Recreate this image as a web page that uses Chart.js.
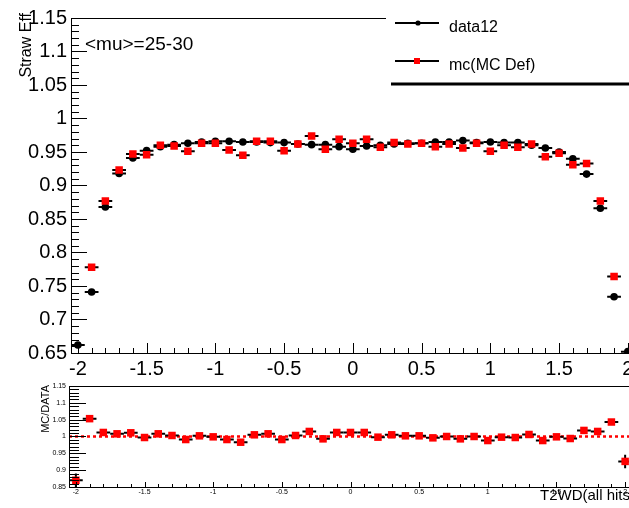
<!DOCTYPE html>
<html>
<head>
<meta charset="utf-8">
<script src="https://cdn.jsdelivr.net/npm/chart.js@4.4.0/dist/chart.umd.min.js"></script>
<style>
  html, body { margin: 0; padding: 0; background: #fff; overflow: hidden; width: 629px; height: 508px; }
  #wrap { position: relative; width: 629px; height: 508px; overflow: hidden; }
  canvas { position: absolute; left: 0; }
  #effCanvas { top: 0; }
  #ratioCanvas { top: 370px; }
</style>
</head>
<body>
<div id="wrap">
  <canvas id="effCanvas" width="640" height="380"></canvas>
  <canvas id="ratioCanvas" width="640" height="138"></canvas>
</div>
<script>
// T2WD bin centres (bin width 0.1)
const binCentres = [-2.0, -1.9, -1.8, -1.7, -1.6, -1.5, -1.4, -1.3, -1.2, -1.1,
                    -1.0, -0.9, -0.8, -0.7, -0.6, -0.5, -0.4, -0.3, -0.2, -0.1,
                     0.0,  0.1,  0.2,  0.3,  0.4,  0.5,  0.6,  0.7,  0.8,  0.9,
                     1.0,  1.1,  1.2,  1.3,  1.4,  1.5,  1.6,  1.7,  1.8,  1.9, 2.0];
const binHalfWidth = 0.05;

// straw efficiency, data 2012
const data12Eff = [0.662, 0.741, 0.868, 0.918, 0.941, 0.952, 0.958, 0.961, 0.963, 0.965,
                   0.966, 0.966, 0.965, 0.965, 0.964, 0.964, 0.962, 0.961, 0.961, 0.958,
                   0.954, 0.959, 0.960, 0.962, 0.963, 0.963, 0.965, 0.965, 0.967, 0.964,
                   0.965, 0.964, 0.964, 0.960, 0.956, 0.950, 0.940, 0.917, 0.866, 0.734, 0.652];

// straw efficiency, MC default (edge bins fall below the axis range)
const mcEff = [null, 0.778, 0.877, 0.923, 0.947, 0.946, 0.960, 0.959, 0.951, 0.963,
               0.963, 0.953, 0.945, 0.966, 0.966, 0.952, 0.962, 0.974, 0.954, 0.969,
               0.963, 0.969, 0.957, 0.964, 0.962, 0.963, 0.958, 0.962, 0.956, 0.963,
               0.951, 0.960, 0.957, 0.962, 0.943, 0.948, 0.931, 0.933, 0.877, 0.764, null];

// MC / DATA ratio and its uncertainty
const mcOverData = [0.870, 1.053, 1.012, 1.008, 1.011, 0.997, 1.008, 1.003, 0.991, 1.002,
                    0.999, 0.991, 0.983, 1.005, 1.008, 0.991, 1.003, 1.015, 0.993, 1.012,
                    1.012, 1.012, 0.998, 1.005, 1.002, 1.002, 0.996, 1.000, 0.993, 1.000,
                    0.988, 0.998, 0.997, 1.006, 0.988, 0.999, 0.994, 1.018, 1.015, 1.043, 0.926];
const mcOverDataErr = [0.020, 0.008, 0.004, 0.003, 0.003, 0.003, 0.003, 0.003, 0.003, 0.003,
                       0.003, 0.003, 0.003, 0.003, 0.003, 0.003, 0.003, 0.003, 0.003, 0.003,
                       0.003, 0.003, 0.003, 0.003, 0.003, 0.003, 0.003, 0.003, 0.003, 0.003,
                       0.003, 0.003, 0.003, 0.003, 0.003, 0.003, 0.003, 0.003, 0.004, 0.008, 0.020];

const xTickValues = [-2, -1.5, -1, -0.5, 0, 0.5, 1, 1.5, 2];
const effTickValues = [0.65, 0.7, 0.75, 0.8, 0.85, 0.9, 0.95, 1, 1.05, 1.1, 1.15];
const ratioTickValues = [0.85, 0.9, 0.95, 1, 1.05, 1.1, 1.15];
const seriesNames = ['data12', 'mc(MC Def)'];

const FONT = '"Liberation Sans", Arial, Helvetica, sans-serif';
const fmt = v => String(Number(Number(v).toFixed(2)));
const toPoints = (xs, ys) => xs.map((x, i) => ({ x: x, y: ys[i] }));

// axis frame with inward major/minor ticks, filled as one path
function drawFrame(chart, st) {
  const ctx = chart.ctx;
  const a = chart.chartArea;
  const xs = chart.scales.x, ys = chart.scales.y;
  const L = Math.round(a.left), B = Math.round(a.bottom);
  const T = Math.round(a.top), R = Math.round(a.right);
  ctx.save();
  ctx.globalAlpha = 1;
  ctx.globalCompositeOperation = 'source-over';
  ctx.fillStyle = '#000000';
  ctx.beginPath();
  ctx.rect(L, T, R - L, 1);
  ctx.rect(L, B, R - L, 1);
  ctx.rect(L, T, 1, B - T + 1);
  const yLo = st.yTicks[0];
  const yCount = Math.round((st.yTicks[st.yTicks.length - 1] - yLo) / st.yMinor);
  const yEvery = Math.round(st.yMajor / st.yMinor);
  for (let i = 0; i <= yCount; i++) {
    const py = Math.round(ys.getPixelForValue(yLo + i * st.yMinor));
    ctx.rect(L + 1, py, ((i % yEvery === 0) ? st.yMajorLen : st.yMinorLen) - 1, 1);
  }
  const xLo = xTickValues[0];
  const xCount = Math.round((xTickValues[xTickValues.length - 1] - xLo) / st.xMinor);
  const xEvery = Math.round(st.xMajor / st.xMinor);
  for (let i = 0; i <= xCount; i++) {
    const px = Math.round(xs.getPixelForValue(xLo + i * st.xMinor));
    const len = (i % xEvery === 0) ? st.xMajorLen : st.xMinorLen;
    ctx.rect(px, B - len, 1, len);
  }
  ctx.fill();
  ctx.restore();
}

// reference line and bin-width / uncertainty bars drawn under the markers
function drawUnderlay(chart, st) {
  const ctx = chart.ctx;
  const a = chart.chartArea;
  const x = chart.scales.x, y = chart.scales.y;
  ctx.save();
  if (st.refLine !== undefined) {
    const py = y.getPixelForValue(st.refLine);
    ctx.strokeStyle = '#ff0000';
    ctx.lineWidth = 2.5;
    ctx.setLineDash([3, 3]);
    ctx.beginPath();
    ctx.moveTo(a.left, py);
    ctx.lineTo(a.right, py);
    ctx.stroke();
    ctx.setLineDash([]);
  }
  ctx.beginPath();
  ctx.rect(a.left, a.top, a.right - a.left, a.bottom - a.top);
  ctx.clip();
  ctx.strokeStyle = '#000';
  ctx.lineWidth = 2;
  chart.data.datasets.forEach(ds => {
    ds.data.forEach((pt, i) => {
      if (pt.y === null || pt.y === undefined) return;
      const py = y.getPixelForValue(pt.y);
      ctx.beginPath();
      ctx.moveTo(x.getPixelForValue(pt.x - binHalfWidth), py);
      ctx.lineTo(x.getPixelForValue(pt.x + binHalfWidth), py);
      if (ds.yErr) {
        const px = x.getPixelForValue(pt.x);
        ctx.moveTo(px, y.getPixelForValue(pt.y - ds.yErr[i]));
        ctx.lineTo(px, y.getPixelForValue(pt.y + ds.yErr[i]));
      }
      ctx.stroke();
    });
  });
  ctx.restore();
}

function drawRotated(ctx, text, x, yTop, size) {
  ctx.save();
  ctx.translate(x, yTop);
  ctx.rotate(-Math.PI / 2);
  ctx.font = size + 'px ' + FONT;
  ctx.fillStyle = '#000';
  ctx.textAlign = 'right';
  ctx.textBaseline = 'alphabetic';
  ctx.fillText(text, 0, 0);
  ctx.restore();
}

function drawEffLabels(ctx) {
  // legend box
  ctx.save();
  ctx.fillStyle = '#fff';
  ctx.fillRect(386, 0, 260, 82);
  ctx.fillStyle = '#000';
  ctx.fillRect(391, 82.5, 260, 3);
  ctx.strokeStyle = '#000';
  ctx.lineWidth = 2;
  ctx.beginPath();
  ctx.moveTo(395, 23); ctx.lineTo(439, 23);
  ctx.moveTo(395, 61); ctx.lineTo(439, 61);
  ctx.stroke();
  ctx.beginPath();
  ctx.arc(418, 23, 2.6, 0, Math.PI * 2);
  ctx.fill();
  ctx.fillStyle = '#ff0000';
  ctx.fillRect(414, 58, 6, 6);
  ctx.fillStyle = '#000';
  ctx.font = '16px ' + FONT;
  ctx.textAlign = 'left';
  ctx.textBaseline = 'alphabetic';
  ctx.fillText(seriesNames[0], 449, 31.5);
  ctx.fillText(seriesNames[1], 449, 69.5);
  // pile-up range label
  ctx.font = '19px ' + FONT;
  ctx.fillText('<mu>=25-30', 85, 50);
  ctx.restore();
  drawRotated(ctx, 'Straw Eff', 31, 13, 16);
}

function drawRatioLabels(ctx) {
  drawRotated(ctx, 'MC/DATA', 49, 15, 11);
  ctx.save();
  ctx.font = '15px ' + FONT;
  ctx.fillStyle = '#000';
  ctx.textAlign = 'right';
  ctx.textBaseline = 'alphabetic';
  ctx.fillText('T2WD(all hits)', 635, 130);
  ctx.restore();
}

function axisTicks(values, size, padding) {
  return {
    afterBuildTicks: s => { s.ticks = values.map(v => ({ value: v })); },
    ticks: { callback: v => fmt(v), font: { family: FONT, size: size }, color: '#000',
             padding: padding, autoSkip: false, maxRotation: 0, minRotation: 0 },
    grid: { display: false, drawTicks: false },
    border: { display: false }
  };
}

const effStyle = { yTicks: effTickValues, yMajor: 0.05, yMinor: 0.01, yMajorLen: 16, yMinorLen: 8,
                   xMajor: 0.5, xMinor: 0.1, xMajorLen: 10, xMinorLen: 5 };
const ratioStyle = { yTicks: ratioTickValues, yMajor: 0.05, yMinor: 0.01, yMajorLen: 17, yMinorLen: 10,
                     xMajor: 0.5, xMinor: 0.1, xMajorLen: 5, xMinorLen: 3, refLine: 1 };

// ---- efficiency panel ----
new Chart(document.getElementById('effCanvas'), {
  type: 'scatter',
  data: {
    datasets: [
      { label: seriesNames[1], data: toPoints(binCentres, mcEff), order: 0,
        pointStyle: 'rect', pointRadius: 5.3, pointBackgroundColor: '#ff0000',
        pointBorderWidth: 0, showLine: false },
      { label: seriesNames[0], data: toPoints(binCentres, data12Eff), order: 1,
        pointStyle: 'circle', pointRadius: 3.8, pointBackgroundColor: '#000',
        pointBorderColor: '#000', pointBorderWidth: 0, showLine: false }
    ]
  },
  options: {
    responsive: false, animation: false, devicePixelRatio: 1,
    layout: { padding: { left: 0, right: 3, top: 18, bottom: 0 } },
    scales: {
      x: Object.assign({ type: 'linear', min: -2.05, max: 2.05,
                         afterFit: s => { s.height = 27; } }, axisTicks(xTickValues, 20, 4)),
      y: Object.assign({ type: 'linear', min: 0.65, max: 1.15,
                         afterFit: s => { s.width = 71; } }, axisTicks(effTickValues, 20, 4))
    },
    plugins: { legend: { display: false }, tooltip: { enabled: false } }
  },
  plugins: [
    { id: 'effUnder', beforeDatasetsDraw(chart) { drawUnderlay(chart, effStyle); } },
    { id: 'effFrame', afterDraw(chart) { drawFrame(chart, effStyle); drawEffLabels(chart.ctx); } }
  ]
});

// ---- ratio panel ----
new Chart(document.getElementById('ratioCanvas'), {
  type: 'scatter',
  data: {
    datasets: [
      { label: 'MC/DATA', data: toPoints(binCentres, mcOverData), yErr: mcOverDataErr,
        pointStyle: 'rect', pointRadius: 5.3, pointBackgroundColor: '#ff0000',
        pointBorderWidth: 0, showLine: false }
    ]
  },
  options: {
    responsive: false, animation: false, devicePixelRatio: 1,
    layout: { padding: { left: 0, right: 8, top: 16, bottom: 0 } },
    scales: {
      x: Object.assign({ type: 'linear', min: -2.05, max: 2.05,
                         afterFit: s => { s.height = 21; } }, axisTicks(xTickValues, 7, 1)),
      y: Object.assign({ type: 'linear', min: 0.85, max: 1.15,
                         afterFit: s => { s.width = 69; } }, axisTicks(ratioTickValues, 7, 3))
    },
    plugins: { legend: { display: false }, tooltip: { enabled: false } }
  },
  plugins: [
    { id: 'ratioUnder', beforeDatasetsDraw(chart) { drawUnderlay(chart, ratioStyle); } },
    { id: 'ratioFrame', afterDraw(chart) { drawFrame(chart, ratioStyle); drawRatioLabels(chart.ctx); } }
  ]
});
</script>
</body>
</html>
